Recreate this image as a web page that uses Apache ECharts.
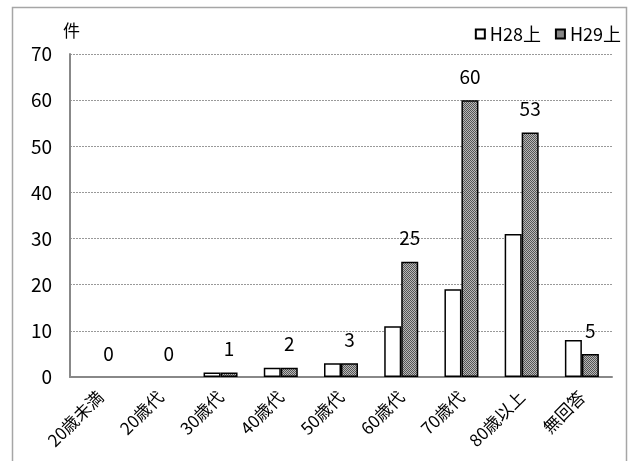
<!DOCTYPE html>
<html><head><meta charset="utf-8">
<script src="https://cdn.jsdelivr.net/npm/echarts@6/dist/echarts.min.js"></script>
<style>html,body{margin:0;padding:0;background:#fff}#c{width:632px;height:461px}</style>
</head><body><div id="c"></div>
<script>
var categories = ['20歳未満','20歳代','30歳代','40歳代','50歳代','60歳代','70歳代','80歳以上','無回答'];
var h28 = [0,0,1,2,3,11,19,31,8];
var h29 = [0,0,1,2,3,25,60,53,5];
var yTicks = [0,10,20,30,40,50,60,70];

var cv = document.createElement('canvas');
cv.width = 2; cv.height = 2;
var cx = cv.getContext('2d');
cx.fillStyle = '#b8b8b8'; cx.fillRect(0,0,2,2);
cx.fillStyle = '#555'; cx.fillRect(0,0,1,1); cx.fillRect(1,1,1,1);

function items(arr){
  return arr.map(function(v){ return v === 0 ? {value:v,itemStyle:{borderWidth:0}} : v; });
}

var font = '"Noto Sans CJK JP", sans-serif';
var chart = echarts.init(document.getElementById('c'));
chart.setOption({
  animation:false,
  textStyle:{fontFamily:font},
  graphic:[{type:'rect',shape:{x:12.5,y:7.5,width:614,height:470},style:{fill:'none',stroke:'#a6a6a6',lineWidth:1.5}},
    {type:'text',left:63,top:22,style:{text:'件',font:'17px "Noto Sans CJK JP"',fill:'#000'}}],
  legend:{right:6,top:20,itemWidth:9,itemHeight:9,itemGap:14,icon:'rect',
    textStyle:{fontSize:18,color:'#000',fontFamily:font},
    data:['H28上','H29上']},
  grid:{left:70,right:20,top:54,bottom:84},
  xAxis:{type:'category',data:categories,
    axisLine:{lineStyle:{color:'#888',width:2}},axisTick:{show:false},
    axisLabel:{rotate:45,fontSize:17,color:'#000',margin:17,interval:0,fontFamily:font}},
  yAxis:{type:'value',min:0,max:70,interval:10,
    axisLine:{show:true,lineStyle:{color:'#888',width:2}},axisTick:{show:false},
    axisLabel:{fontSize:19,color:'#000',margin:18,fontFamily:font},
    splitLine:{lineStyle:{color:'#999',type:[2,1],width:1}}},
  series:[
    {name:'H28上',type:'bar',data:items(h28),barWidth:17,barGap:'0%',
     itemStyle:{color:'#fff',borderColor:'#000',borderWidth:1.5}},
    {name:'H29上',type:'bar',data:items(h29),barWidth:17,
     itemStyle:{color:{image:cv,repeat:'repeat'},borderColor:'#000',borderWidth:1.5},
     label:{show:true,position:'top',distance:14,fontSize:19,color:'#000',fontFamily:font}}
  ]
});
</script></body></html>
